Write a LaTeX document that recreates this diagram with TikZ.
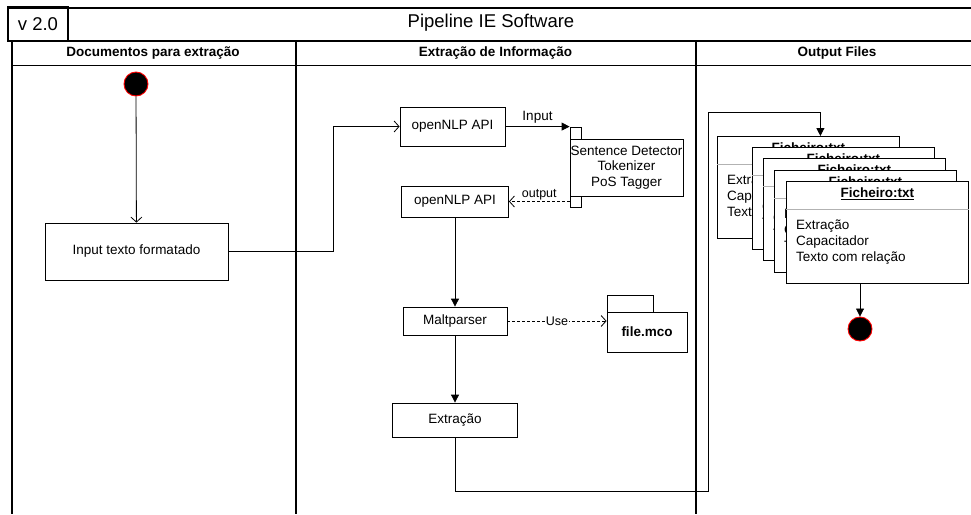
\documentclass[tikz,border=0pt]{standalone}
\usepackage{fontspec}
\setmainfont{Liberation Sans}
\usetikzlibrary{arrows.meta}

\begin{document}
\begin{tikzpicture}[x=1pt,y=-1pt,
  every node/.style={font=\fontsize{13.5}{16}\selectfont},
  box/.style={draw,fill=white,line width=0.8pt,inner sep=0pt,align=center},
  dot/.style={circle,fill=black,draw=red,line width=0.9pt,minimum size=24pt,inner sep=0pt},
  flow/.style={-{Triangle[length=8pt,width=8pt]},line width=0.8pt},
  call/.style={-{Straight Barb[length=5pt,width=11pt]},line width=0.8pt},
  uses/.style={call,dash pattern=on 3pt off 2pt},
  lane/.style={line width=1.2pt},
  hdr/.style={font=\bfseries\fontsize{13.5}{16}\selectfont}]

  \useasboundingbox (0,0) rectangle (971,514);

  % Frame
  \draw[line width=2pt] (8,8) -- (971,8);
  \draw[line width=2pt] (8,41) -- (971,41);
  \draw[line width=1.5pt] (8,7) rectangle (68,41);
  \node[font=\fontsize{18.5}{20}\selectfont] (ver) at (38,24) {v 2.0};
  \node[font=\fontsize{18.5}{20}\selectfont] (title) at (491,23) {Pipeline IE Software};

  % Lanes
  \draw[lane] (12,41) -- (12,514);
  \draw[lane] (296,41) -- (296,514);
  \draw[lane] (696,41) -- (696,514);
  \draw[line width=0.8pt] (12,65) -- (971,65);
  \node[hdr] (lane1) at (153,53) {Documentos para extração};
  \node[hdr] (lane2) at (495.5,53) {Extração de Informação};
  \node[hdr] (lane3) at (837,53) {Output Files};

  % Documentos
  \node[dot] (start) at (136,84) {};
  \node[box,minimum width=183pt,minimum height=57pt] (input) at (136.5,251.5) {Input texto formatado};
  \coordinate (r0) at (333,251.5);
  \draw[call] (start) -- (input);

  % Extracao
  \node[box,minimum width=105pt,minimum height=39pt] (api1) at (452.5,126.5) {openNLP API};
  \node[box,minimum width=11pt,minimum height=80pt] (act) at (575.5,167) {};
  \node[box,minimum width=113pt,minimum height=57pt,font=\fontsize{13.5}{15.5}\selectfont] (tools) at (626.5,167.5) {Sentence Detector\\Tokenizer\\PoS Tagger};
  \node[box,minimum width=107pt,minimum height=31pt] (api2) at (455,201.5) {openNLP API};
  \node[box,minimum width=104pt,minimum height=28pt] (malt) at (455,321) {Maltparser};
  \node[box,minimum width=46pt,minimum height=17pt] (tab) at (630,303.5) {};
  \node[box,minimum width=80pt,minimum height=40pt,font=\bfseries\fontsize{13.5}{16}\selectfont] (mco) at (647,332) {file.mco};
  \node[box,minimum width=125pt,minimum height=34pt] (extr) at (455,420) {Extração};

  \draw[call] (input) -- (r0) |- (api1);
  \draw[flow] (api1) -- (act.north west) node[midway,above] (inlbl) {Input};
  \draw[uses] (act.west |- api2.east) -- (api2.east) node[midway,above,inner sep=1pt,font=\fontsize{12.5}{14}\selectfont] (outlbl) {output};
  \draw[flow] (api2) -- (malt);
  \draw[uses] (malt) -- (malt -| mco.west) node[midway,fill=white,inner sep=1pt,font=\fontsize{12.5}{14}\selectfont] (uselbl) {Use};
  \draw[flow] (malt) -- (extr);

  % Output files
  \foreach \i/\fx/\fy in {1/717/136,2/752/147,3/763/158,4/774/170,5/786/181} {
    \node[box,anchor=north west,minimum width=182pt,minimum height=102pt] (f\i) at (\fx,\fy) {};
    \draw[black!30,line width=0.8pt] ([yshift=-28pt]f\i.north west) -- ([yshift=-28pt]f\i.north east);
    \node[hdr] (f\i-t) at ([yshift=-13pt]f\i.north) {\underline{Ficheiro:txt}};
    \node[anchor=west,align=left,inner sep=0pt] (f\i-b) at ([xshift=10pt,yshift=-61pt]f\i.north west) {Extração\\Capacitador\\Texto com relação};
  }
  \node[dot] (end) at (860,329) {};
  \coordinate (r1) at (708,491);
  \coordinate (r2) at (708,112);
  \draw[flow] (extr) |- (r1) -- (r2) -| ([xshift=12pt]f1.north);
  \draw[flow] (end |- f5.south) -- (end);

\end{tikzpicture}
\end{document}
